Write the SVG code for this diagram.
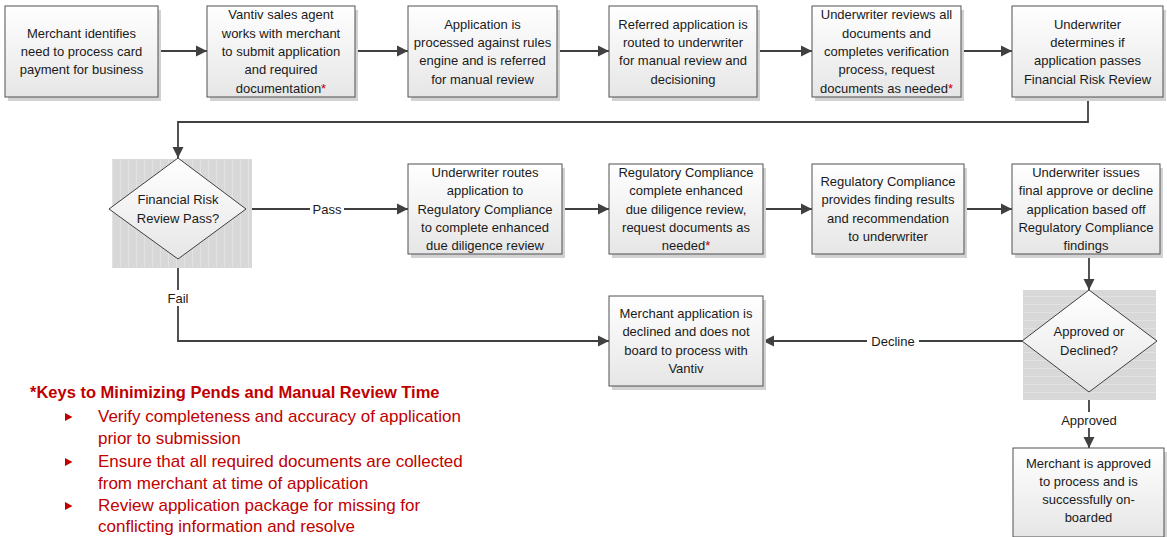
<svg xmlns="http://www.w3.org/2000/svg" width="1167" height="537" viewBox="0 0 1167 537">
<style>
.box{fill:url(#g);stroke:#505050;stroke-width:1}
.sh{fill:#d2d2d2}
.t{font-family:"Liberation Sans",Arial,sans-serif;font-size:13px;fill:#1a1a1a;text-anchor:middle}
.r{fill:#c00000}
.c{fill:none;stroke:#404040;stroke-width:1.8}
.lbl{font-family:"Liberation Sans",Arial,sans-serif;font-size:13px;fill:#1a1a1a;text-anchor:middle}
.dia{fill:url(#g);stroke:#404040;stroke-width:1}
.leg{font-family:"Liberation Sans",Arial,sans-serif;font-size:17px;fill:#c00000}
</style>
<defs>
<linearGradient id="g" x1="0" y1="0" x2="0" y2="1">
<stop offset="0" stop-color="#ffffff"/>
<stop offset="1" stop-color="#e6e6e6"/>
</linearGradient>
<pattern id="pv" width="8" height="8" patternUnits="userSpaceOnUse">
<rect width="8" height="8" fill="#d8d8d8"/>
<line x1="0.5" y1="0" x2="0.5" y2="8" stroke="#e2e2e2" stroke-width="1"/>
</pattern>
<pattern id="ph" width="8" height="8" patternUnits="userSpaceOnUse">
<rect width="8" height="8" fill="#d8d8d8"/>
<line x1="0" y1="0.5" x2="8" y2="0.5" stroke="#e2e2e2" stroke-width="1"/>
</pattern>
<marker id="a" markerUnits="userSpaceOnUse" markerWidth="12" markerHeight="12" refX="11" refY="6" orient="auto">
<path d="M0,0.5 L11,6 L0,11.5 z" fill="#404040"/>
</marker>
</defs>

<g id="connectors">
<line class="c" x1="158" y1="51" x2="207" y2="51" marker-end="url(#a)"/>
<line class="c" x1="355" y1="51" x2="408" y2="51" marker-end="url(#a)"/>
<line class="c" x1="557" y1="51" x2="609" y2="51" marker-end="url(#a)"/>
<line class="c" x1="757" y1="51" x2="812" y2="51" marker-end="url(#a)"/>
<line class="c" x1="961" y1="51" x2="1012" y2="51" marker-end="url(#a)"/>
<polyline class="c" points="1088,97 1088,122 178,122 178,158" marker-end="url(#a)"/>
<line class="c" x1="246" y1="209" x2="408" y2="209" marker-end="url(#a)"/>
<line class="c" x1="562" y1="209" x2="609" y2="209" marker-end="url(#a)"/>
<line class="c" x1="763" y1="209" x2="812" y2="209" marker-end="url(#a)"/>
<line class="c" x1="964" y1="209" x2="1012" y2="209" marker-end="url(#a)"/>
<line class="c" x1="1089" y1="254" x2="1089" y2="290" marker-end="url(#a)"/>
<line class="c" x1="1022" y1="341" x2="763" y2="341" marker-end="url(#a)"/>
<polyline class="c" points="178,259 178,341 609,341" marker-end="url(#a)"/>
<line class="c" x1="1089" y1="392" x2="1089" y2="448" marker-end="url(#a)"/>
<rect x="310" y="201" width="34" height="16" fill="#fff"/>
<text class="lbl" x="327" y="213.5">Pass</text>
<rect x="164" y="290" width="28" height="16" fill="#fff"/>
<text class="lbl" x="178" y="302.5">Fail</text>
<rect x="867" y="333" width="52" height="16" fill="#fff"/>
<text class="lbl" x="893" y="345.5">Decline</text>
<rect x="1058" y="412" width="62" height="16" fill="#fff"/>
<text class="lbl" x="1089" y="424.5">Approved</text>
</g>

<g id="n1"><rect class="sh" x="8" y="10" width="153" height="91"/><rect class="box" x="5" y="6" width="153" height="91"/>
<text class="t" x="81.5" y="37.7">Merchant identifies</text><text class="t" x="81.5" y="56">need to process card</text><text class="t" x="81.5" y="74.3">payment for business</text></g>

<g id="n2"><rect class="sh" x="210" y="10" width="148" height="91"/><rect class="box" x="207" y="6" width="148" height="91"/>
<text class="t" x="281" y="19.4">Vantiv sales agent</text><text class="t" x="281" y="37.7">works with merchant</text><text class="t" x="281" y="56">to submit application</text><text class="t" x="281" y="74.3">and required</text><text class="t" x="281" y="92.6">documentation<tspan class="r">*</tspan></text></g>

<g id="n3"><rect class="sh" x="411" y="10" width="149" height="91"/><rect class="box" x="408" y="6" width="149" height="91"/>
<text class="t" x="482.5" y="28.6">Application is</text><text class="t" x="482.5" y="46.9">processed against rules</text><text class="t" x="482.5" y="65.2">engine and is referred</text><text class="t" x="482.5" y="83.5">for manual review</text></g>

<g id="n4"><rect class="sh" x="612" y="10" width="148" height="91"/><rect class="box" x="609" y="6" width="148" height="91"/>
<text class="t" x="683" y="28.6">Referred application is</text><text class="t" x="683" y="46.9">routed to underwriter</text><text class="t" x="683" y="65.2">for manual review and</text><text class="t" x="683" y="83.5">decisioning</text></g>

<g id="n5"><rect class="sh" x="815" y="10" width="149" height="91"/><rect class="box" x="812" y="6" width="149" height="91"/>
<text class="t" x="886.5" y="19.4">Underwriter reviews all</text><text class="t" x="886.5" y="37.7">documents and</text><text class="t" x="886.5" y="56">completes verification</text><text class="t" x="886.5" y="74.3">process, request</text><text class="t" x="886.5" y="92.6">documents as needed<tspan class="r">*</tspan></text></g>

<g id="n6"><rect class="sh" x="1015" y="10" width="151" height="91"/><rect class="box" x="1012" y="6" width="151" height="91"/>
<text class="t" x="1087.5" y="28.6">Underwriter</text><text class="t" x="1087.5" y="46.9">determines if</text><text class="t" x="1087.5" y="65.2">application passes</text><text class="t" x="1087.5" y="83.5">Financial Risk Review</text></g>

<g id="d1"><rect x="112" y="159" width="140" height="109" fill="url(#pv)"/>
<polygon class="dia" points="178,158 246,209 178,259 109,209"/>
<text class="t" x="178" y="204.4">Financial Risk</text><text class="t" x="178" y="222.7">Review Pass?</text></g>

<g id="n7"><rect class="sh" x="411" y="168" width="154" height="90"/><rect class="box" x="408" y="164" width="154" height="90"/>
<text class="t" x="485" y="176.9">Underwriter routes</text><text class="t" x="485" y="195.2">application to</text><text class="t" x="485" y="213.5">Regulatory Compliance</text><text class="t" x="485" y="231.8">to complete enhanced</text><text class="t" x="485" y="250.1">due diligence review</text></g>

<g id="n8"><rect class="sh" x="612" y="168" width="154" height="90"/><rect class="box" x="609" y="164" width="154" height="90"/>
<text class="t" x="686" y="176.9">Regulatory Compliance</text><text class="t" x="686" y="195.2">complete enhanced</text><text class="t" x="686" y="213.5">due diligence review,</text><text class="t" x="686" y="231.8">request documents as</text><text class="t" x="686" y="250.1">needed<tspan class="r">*</tspan></text></g>

<g id="n9"><rect class="sh" x="815" y="168" width="152" height="90"/><rect class="box" x="812" y="164" width="152" height="90"/>
<text class="t" x="888" y="186">Regulatory Compliance</text><text class="t" x="888" y="204.3">provides finding results</text><text class="t" x="888" y="222.6">and recommendation</text><text class="t" x="888" y="240.9">to underwriter</text></g>

<g id="n10"><rect class="sh" x="1015" y="168" width="148" height="90"/><rect class="box" x="1012" y="164" width="148" height="90"/>
<text class="t" x="1086" y="176.9">Underwriter issues</text><text class="t" x="1086" y="195.2">final approve or decline</text><text class="t" x="1086" y="213.5">application based off</text><text class="t" x="1086" y="231.8">Regulatory Compliance</text><text class="t" x="1086" y="250.1">findings</text></g>

<g id="d2"><rect x="1023" y="290" width="133" height="110" fill="url(#ph)"/>
<polygon class="dia" points="1089,290 1157,341 1089,392 1022,341"/>
<text class="t" x="1089" y="336.4">Approved or</text><text class="t" x="1089" y="354.7">Declined?</text></g>

<g id="n11"><rect class="sh" x="612" y="300" width="154" height="90"/><rect class="box" x="609" y="296" width="154" height="90"/>
<text class="t" x="686" y="318">Merchant application is</text><text class="t" x="686" y="336.3">declined and does not</text><text class="t" x="686" y="354.6">board to process with</text><text class="t" x="686" y="372.9">Vantiv</text></g>

<g id="n12"><rect class="sh" x="1016" y="452" width="151" height="89"/><rect class="box" x="1013" y="448" width="151" height="89"/>
<text class="t" x="1088.5" y="467.5">Merchant is approved</text><text class="t" x="1088.5" y="485.8">to process and is</text><text class="t" x="1088.5" y="504.1">successfully on-</text><text class="t" x="1088.5" y="522.4">boarded</text></g>

<g id="legend">
<text x="30" y="398" font-family="Liberation Sans, Arial, sans-serif" font-size="16.5" font-weight="bold" fill="#c00000">*Keys to Minimizing Pends and Manual Review Time</text>
<polygon points="65,413 72.5,417 65,421" fill="#c00000"/>
<polygon points="65,458 72.5,462 65,466" fill="#c00000"/>
<polygon points="65,502 72.5,506 65,510" fill="#c00000"/>
<text class="leg" x="98" y="422">Verify completeness and accuracy of application</text>
<text class="leg" x="98" y="444">prior to submission</text>
<text class="leg" x="98" y="467">Ensure that all required documents are collected</text>
<text class="leg" x="98" y="489">from merchant at time of application</text>
<text class="leg" x="98" y="511">Review application package for missing for</text>
<text class="leg" x="98" y="532">conflicting information and resolve</text>
</g>
</svg>
